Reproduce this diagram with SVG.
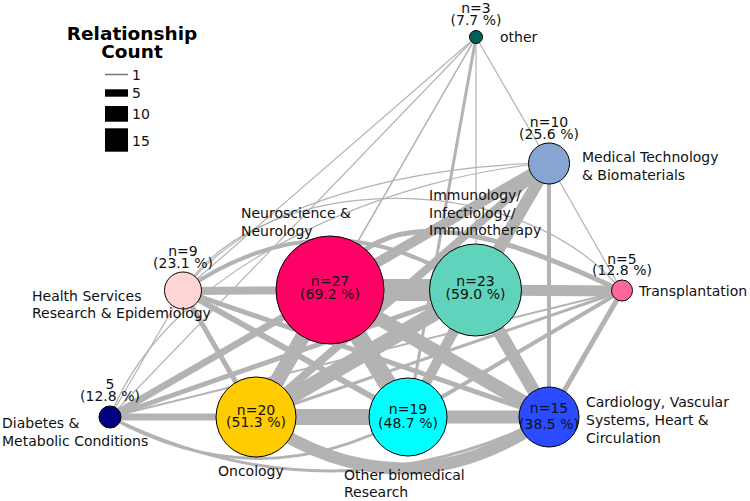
<svg xmlns="http://www.w3.org/2000/svg" width="750" height="501" viewBox="0 0 750 501">
<style>
.e{stroke:#b3b3b3;fill:none;stroke-linecap:butt}
.nd{stroke:#000;stroke-width:1}
text{font-family:"DejaVu Sans","Liberation Sans",sans-serif;font-size:14px;fill:#111}
.c{text-anchor:middle}
.lg{font-weight:bold;font-size:18.5px;text-anchor:middle;fill:#000}
</style>
<rect width="750" height="501" fill="#fff"/>
<g id="legend">
<text class="lg" x="132" y="40">Relationship<tspan x="132" dy="17.5">Count</tspan></text>
<line x1="105" y1="74.5" x2="128" y2="74.5" stroke="#777" stroke-width="1.5"/>
<rect x="105" y="89.3" width="23" height="7.4" fill="#000"/>
<rect x="105" y="106" width="23" height="15.7" fill="#000"/>
<rect x="105" y="128.3" width="23" height="23.4" fill="#000"/>
<text x="132" y="80">1</text>
<text x="132" y="98">5</text>
<text x="132" y="119">10</text>
<text x="132" y="145.5">15</text>
</g>
<g id="edges">
<line class="e" x1="183" y1="291" x2="110" y2="417" stroke-width="1.2"/>
<line class="e" x1="183" y1="291" x2="476" y2="37" stroke-width="1.2"/>
<line class="e" x1="110" y1="417" x2="476" y2="37" stroke-width="1.2"/>
<line class="e" x1="330" y1="290" x2="476" y2="37" stroke-width="1.2"/>
<line class="e" x1="256" y1="417" x2="476" y2="37" stroke-width="1.2"/>
<line class="e" x1="476" y1="37" x2="476" y2="290" stroke-width="1.2"/>
<line class="e" x1="408" y1="417" x2="476" y2="37" stroke-width="3"/>
<line class="e" x1="549" y1="163" x2="476" y2="37" stroke-width="1.2"/>
<line class="e" x1="549" y1="163" x2="622" y2="291" stroke-width="1.2"/>
<path class="e" d="M183,291 C260,170 520,165 622,291" stroke-width="1.2"/>
<path class="e" d="M183,291 C250,200 420,165 549,163" stroke-width="1.2"/>
<path class="e" d="M110,417 C170,260 400,175 549,163" stroke-width="1.2"/>
<path class="e" d="M183,291 Q329,190 475,290" stroke-width="4"/>
<path class="e" d="M330,290 C380,200 480,224 622,291" stroke-width="5"/>
<line class="e" x1="110" y1="417" x2="622" y2="291" stroke-width="2"/>
<line class="e" x1="256" y1="417" x2="622" y2="291" stroke-width="3"/>
<line class="e" x1="408" y1="417" x2="622" y2="291" stroke-width="4"/>
<line class="e" x1="549" y1="417" x2="622" y2="291" stroke-width="5"/>
<line class="e" x1="549" y1="417" x2="549" y2="163" stroke-width="4"/>
<line class="e" x1="183" y1="291" x2="256" y2="417" stroke-width="5"/>
<line class="e" x1="183" y1="291" x2="408" y2="417" stroke-width="6"/>
<line class="e" x1="183" y1="291" x2="549" y2="417" stroke-width="5"/>
<line class="e" x1="110" y1="417" x2="330" y2="290" stroke-width="7"/>
<line class="e" x1="110" y1="417" x2="475" y2="290" stroke-width="5"/>
<path class="e" d="M110,417 Q259,500 408,417" stroke-width="3"/>
<path class="e" d="M110,417 Q330,525 549,417" stroke-width="3"/>
<path class="e" d="M256,417 Q402,520 549,417" stroke-width="12"/>
<line class="e" x1="183" y1="291" x2="330" y2="290" stroke-width="8"/>
<line class="e" x1="110" y1="417" x2="256" y2="417" stroke-width="7"/>
<line class="e" x1="330" y1="290" x2="549" y2="163" stroke-width="10"/>
<line class="e" x1="256" y1="417" x2="549" y2="163" stroke-width="8"/>
<line class="e" x1="408" y1="417" x2="549" y2="163" stroke-width="7"/>
<line class="e" x1="475" y1="290" x2="549" y2="163" stroke-width="12"/>
<line class="e" x1="330" y1="290" x2="256" y2="417" stroke-width="15"/>
<line class="e" x1="330" y1="290" x2="408" y2="417" stroke-width="18"/>
<line class="e" x1="330" y1="290" x2="549" y2="417" stroke-width="14"/>
<line class="e" x1="475" y1="290" x2="256" y2="417" stroke-width="15"/>
<line class="e" x1="475" y1="290" x2="408" y2="417" stroke-width="10"/>
<line class="e" x1="475" y1="290" x2="549" y2="417" stroke-width="13"/>
<line class="e" x1="475" y1="290" x2="622" y2="291" stroke-width="11"/>
<line class="e" x1="330" y1="290" x2="475" y2="290" stroke-width="22"/>
<line class="e" x1="256" y1="417" x2="408" y2="417" stroke-width="16"/>
<line class="e" x1="408" y1="417" x2="549" y2="417" stroke-width="13"/>
</g>
<g id="node-other">
<circle class="nd" cx="476" cy="37" r="6.5" fill="#005f57"/>
<text class="c" x="476" y="12.5">n=3<tspan x="476" dy="12.5">(7.7 %)</tspan></text>
<text x="500" y="42">other</text>
</g>
<g id="node-medtech">
<circle class="nd" cx="549" cy="163.5" r="20.5" fill="#87a5d3"/>
<text class="c" x="549" y="127">n=10<tspan x="549" dy="11.5">(25.6 %)</tspan></text>
<text x="582" y="162">Medical Technology<tspan x="582" dy="18">&amp; Biomaterials</tspan></text>
</g>
<g id="node-neuro">
<circle class="nd" cx="330" cy="290" r="54" fill="#ff0066"/>
<text class="c" x="330" y="286">n=27<tspan x="330" dy="13">(69.2 %)</tspan></text>
<text x="241" y="218">Neuroscience &amp;<tspan x="241" dy="18">Neurology</tspan></text>
</g>
<g id="node-immuno">
<circle class="nd" cx="475.5" cy="290" r="46" fill="#5fd3bc"/>
<text class="c" x="475.5" y="286">n=23<tspan x="475.5" dy="13">(59.0 %)</tspan></text>
<text x="429" y="200">Immunology/<tspan x="429" dy="17.5">Infectiology/</tspan><tspan x="429" dy="17.5">Immunotherapy</tspan></text>
</g>
<g id="node-health">
<circle class="nd" cx="183" cy="290.5" r="18.5" fill="#ffd5d5"/>
<text class="c" x="183" y="256">n=9<tspan x="183" dy="12">(23.1 %)</tspan></text>
<text x="32" y="301">Health Services<tspan x="32" dy="17">Research &amp; Epidemiology</tspan></text>
</g>
<g id="node-transplant">
<circle class="nd" cx="622" cy="290.5" r="10.5" fill="#ff6699"/>
<text class="c" x="622" y="264">n=5<tspan x="622" dy="11">(12.8 %)</tspan></text>
<text x="639" y="296">Transplantation</text>
</g>
<g id="node-diabetes">
<circle class="nd" cx="110" cy="417" r="11" fill="#000080"/>
<text class="c" x="110" y="389">5<tspan x="110" dy="12">(12.8 %)</tspan></text>
<text x="2" y="428">Diabetes &amp;<tspan x="2" dy="18">Metabolic Conditions</tspan></text>
</g>
<g id="node-oncology">
<circle class="nd" cx="256" cy="417" r="40" fill="#ffcc00"/>
<text class="c" x="256" y="415">n=20<tspan x="256" dy="12">(51.3 %)</tspan></text>
<text x="218" y="476">Oncology</text>
</g>
<g id="node-otherbio">
<circle class="nd" cx="408" cy="417" r="39" fill="#00ffff"/>
<text class="c" x="408" y="414">n=19<tspan x="408" dy="13.5">(48.7 %)</tspan></text>
<text x="344" y="480">Other biomedical<tspan x="344" dy="17">Research</tspan></text>
</g>
<g id="node-cardio">
<circle class="nd" cx="549" cy="417" r="30" fill="#2a4bff"/>
<text class="c" x="549" y="413">n=15<tspan x="549" dy="16">(38.5 %)</tspan></text>
<text x="586" y="407">Cardiology, Vascular<tspan x="586" dy="18">Systems, Heart &amp;</tspan><tspan x="586" dy="18">Circulation</tspan></text>
</g>
</svg>
